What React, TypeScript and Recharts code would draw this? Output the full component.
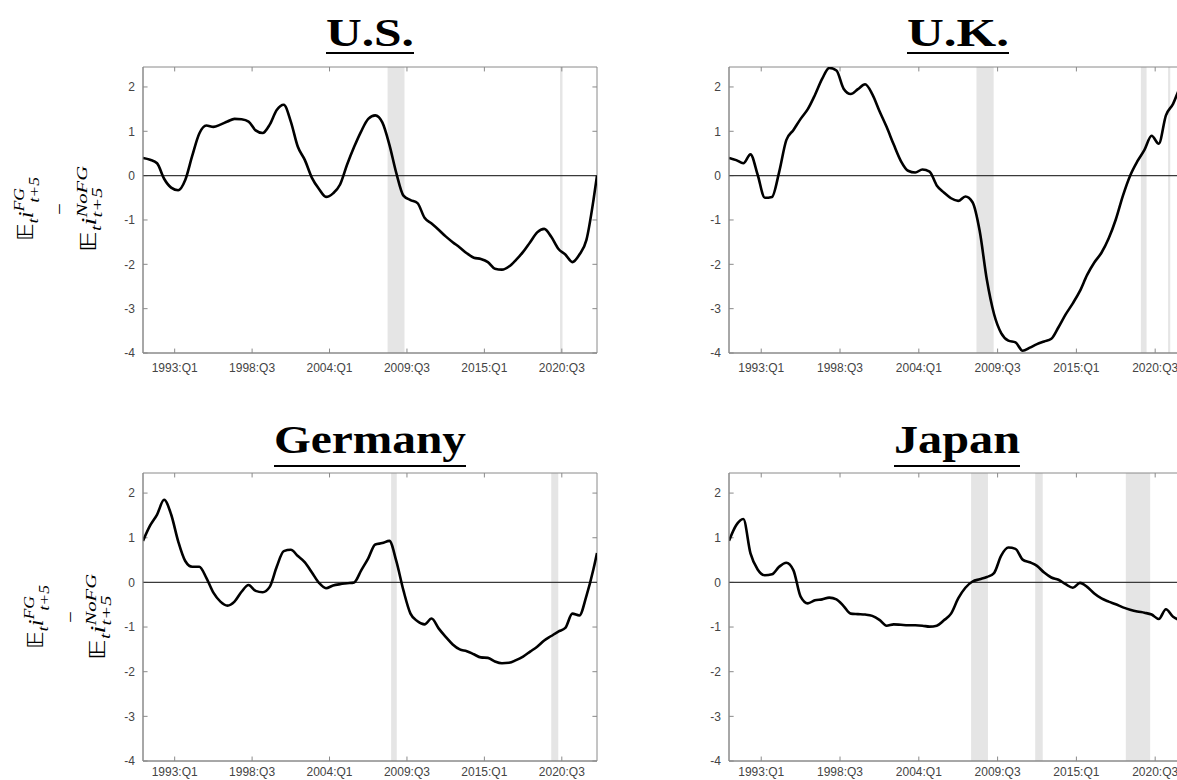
import React from 'react';
import { LineChart, Line, XAxis, YAxis, ReferenceLine, ReferenceArea } from 'recharts';

// quarter index counted from 1990:Q1 = 0
const quarterIdx = [
  3, 5, 7, 9, 11, 13, 15, 17, 19, 21,
  23, 25, 27, 29, 31, 33, 35, 37, 39, 41,
  43, 45, 47, 49, 51, 53, 55, 57, 59, 61,
  63, 65, 67, 69, 71, 73, 75, 77, 79, 81,
  83, 85, 87, 89, 91, 93, 95, 97, 99, 101,
  103, 105, 107, 109, 111, 113, 115, 117, 119, 121,
  123, 125, 127, 129, 131, 132,
];

const xTickIdx = [12, 34, 56, 78, 100, 122];
const xTickLabels = ['1993:Q1', '1998:Q3', '2004:Q1', '2009:Q3', '2015:Q1', '2020:Q3'];
const yTicks = [-4, -3, -2, -1, 0, 1, 2];

const panelTitles = ['U.S.', 'U.K.', 'Germany', 'Japan'];

const usValues = [
  0.40, 0.36, 0.28, -0.07, -0.27, -0.33, -0.10, 0.45, 0.95, 1.13,
  1.10, 1.15, 1.22, 1.28, 1.27, 1.22, 1.02, 0.96, 1.15, 1.48,
  1.60, 1.22, 0.65, 0.35, -0.05, -0.30, -0.48, -0.40, -0.20, 0.25,
  0.65, 1.00, 1.28, 1.36, 1.20, 0.70, 0.05, -0.45, -0.55, -0.62,
  -0.95, -1.08, -1.22, -1.37, -1.50, -1.62, -1.75, -1.85, -1.88, -1.95,
  -2.10, -2.12, -2.05, -1.90, -1.72, -1.50, -1.28, -1.20, -1.38, -1.65,
  -1.78, -1.95, -1.78, -1.45, -0.55, 0.00,
];

const ukValues = [
  0.40, 0.35, 0.28, 0.48, 0.02, -0.50, -0.48, 0.08, 0.80, 1.03,
  1.28, 1.50, 1.82, 2.18, 2.43, 2.37, 1.96, 1.84, 1.95, 2.06,
  1.84, 1.46, 1.10, 0.70, 0.33, 0.11, 0.07, 0.14, 0.09, -0.22,
  -0.38, -0.51, -0.57, -0.47, -0.60, -1.25, -2.35, -3.12, -3.55, -3.72,
  -3.76, -3.95, -3.88, -3.80, -3.74, -3.68, -3.42, -3.13, -2.88, -2.60,
  -2.24, -1.96, -1.74, -1.42, -0.99, -0.45, 0.00, 0.32, 0.58, 0.90,
  0.72, 1.36, 1.62, 2.00, 2.20, 2.30,
];

const deValues = [
  0.93, 1.27, 1.52, 1.85, 1.52, 0.92, 0.48, 0.35, 0.35, 0.10,
  -0.23, -0.43, -0.52, -0.43, -0.21, -0.06, -0.19, -0.22, -0.10, 0.35,
  0.70, 0.73, 0.59, 0.45, 0.22, -0.01, -0.13, -0.07, -0.04, -0.02,
  0.00, 0.27, 0.54, 0.85, 0.88, 0.93, 0.47, -0.18, -0.70, -0.87,
  -0.94, -0.81, -1.03, -1.22, -1.39, -1.50, -1.54, -1.61, -1.68, -1.69,
  -1.77, -1.81, -1.80, -1.74, -1.66, -1.55, -1.44, -1.30, -1.20, -1.10,
  -1.02, -0.70, -0.74, -0.30, 0.30, 0.66,
];

const jpValues = [
  0.93, 1.28, 1.42, 0.65, 0.29, 0.16, 0.18, 0.35, 0.44, 0.27,
  -0.32, -0.47, -0.40, -0.38, -0.34, -0.38, -0.53, -0.70, -0.71, -0.72,
  -0.75, -0.84, -0.97, -0.94, -0.95, -0.96, -0.96, -0.97, -0.99, -0.97,
  -0.85, -0.70, -0.36, -0.12, 0.02, 0.07, 0.12, 0.21, 0.60, 0.78,
  0.75, 0.51, 0.45, 0.37, 0.22, 0.11, 0.06, -0.04, -0.12, -0.01,
  -0.10, -0.25, -0.36, -0.43, -0.49, -0.56, -0.61, -0.65, -0.68, -0.72,
  -0.82, -0.60, -0.77, -0.84, -0.85, -0.86,
];

// shaded recession periods (quarter index)
const usBands = [[72.5, 77.3], [121.5, 122.2]];
const ukBands = [[72.1, 76.9], [118.0, 119.6], [125.6, 126.2]];
const deBands = [[73.5, 75.1], [119.0, 121.0]];
const jpBands = [[70.6, 75.3], [88.5, 90.6], [113.8, 120.6]];

const X_MIN = 3;
const X_MAX = 132;
const Y_MIN = -4;
const Y_MAX = 2.45;

const AXIS_GRAY = '#8a8a8a';
const tickFont = { fill: '#444', fontSize: 12, fontFamily: 'Liberation Sans, Arial, sans-serif' };

function Panel({ values, bands, left, top, width, height, margin, xMargin }) {
  const data = quarterIdx.map((q, i) => ({ q, v: values[i] }));
  const tickSegs = [];
  xTickIdx.forEach((t, i) => {
    tickSegs.push(
      <ReferenceLine key={'xb' + i} segment={[{ x: t, y: Y_MIN }, { x: t, y: Y_MIN + 0.1 }]} stroke={AXIS_GRAY} />
    );
    tickSegs.push(
      <ReferenceLine key={'xt' + i} segment={[{ x: t, y: Y_MAX }, { x: t, y: Y_MAX - 0.1 }]} stroke={AXIS_GRAY} />
    );
  });
  yTicks.forEach((t, i) => {
    tickSegs.push(
      <ReferenceLine key={'yl' + i} segment={[{ x: X_MIN, y: t }, { x: X_MIN + 1.3, y: t }]} stroke={AXIS_GRAY} />
    );
    tickSegs.push(
      <ReferenceLine key={'yr' + i} segment={[{ x: X_MAX, y: t }, { x: X_MAX - 1.3, y: t }]} stroke={AXIS_GRAY} />
    );
  });
  return (
    <div style={{ position: 'absolute', left, top }}>
      <LineChart width={width} height={height} data={data} margin={margin}>
        <XAxis
          dataKey="q"
          type="number"
          domain={[X_MIN, X_MAX]}
          ticks={xTickIdx}
          interval={0}
          tickFormatter={(t) => xTickLabels[xTickIdx.indexOf(t)]}
          tickLine={false}
          tickSize={0}
          tickMargin={xMargin}
          axisLine={{ stroke: AXIS_GRAY }}
          tick={tickFont}
          allowDataOverflow
          height={30}
        />
        <YAxis
          type="number"
          domain={[Y_MIN, Y_MAX]}
          ticks={yTicks}
          interval={0}
          tickLine={false}
          tickSize={0}
          tickMargin={8}
          axisLine={{ stroke: AXIS_GRAY }}
          tick={tickFont}
          allowDataOverflow
          width={30}
        />
        {bands.map(([a, b], i) => (
          <ReferenceArea key={'band' + i} x1={a} x2={b} y1={Y_MIN} y2={Y_MAX} fill="#e5e5e5" fillOpacity={1} stroke="none" />
        ))}
        <ReferenceArea x1={X_MIN} x2={X_MAX} y1={Y_MIN} y2={Y_MAX} fill="none" fillOpacity={0} stroke={AXIS_GRAY} />
        {tickSegs}
        <ReferenceLine y={0} stroke="#3a3a3a" strokeWidth={1.4} />
        <Line type="monotone" dataKey="v" stroke="#000" strokeWidth={2.6} dot={false} isAnimationActive={false} />
      </LineChart>
    </div>
  );
}

function YLabel({ cy, b1, bd, b3, f }) {
  const s = 0.72 * f;
  return (
    <g transform={`translate(0, ${cy}) rotate(-90)`}>
      <text x={0} y={b1} textAnchor="middle" fontFamily="Liberation Serif, serif" fontSize={f} fill="#000"
        textLength={64} lengthAdjust="spacingAndGlyphs">
        <tspan fontFamily="DejaVu Sans">𝔼</tspan>
        <tspan fontSize={s} dy={0.25 * f} fontStyle="italic">t</tspan>
        <tspan dy={-0.25 * f} fontStyle="italic">i</tspan>
        <tspan fontSize={s} dy={-0.42 * f} fontStyle="italic">FG</tspan>
        <tspan fontSize={s} dx={-0.83 * s} dy={0.72 * f} fontStyle="italic">t+5</tspan>
      </text>
      <text x={0} y={bd} textAnchor="middle" fontFamily="Liberation Serif, serif" fontSize={f * 0.9} fill="#000">–</text>
      <text x={0} y={b3} textAnchor="middle" fontFamily="Liberation Serif, serif" fontSize={f} fill="#000"
        textLength={86} lengthAdjust="spacingAndGlyphs">
        <tspan fontFamily="DejaVu Sans">𝔼</tspan>
        <tspan fontSize={s} dy={0.25 * f} fontStyle="italic">t</tspan>
        <tspan dy={-0.25 * f} fontStyle="italic">i</tspan>
        <tspan fontSize={s} dy={-0.42 * f} fontStyle="italic">NoFG</tspan>
        <tspan fontSize={s} dx={-2.5 * s} dy={0.72 * f} fontStyle="italic">t+5</tspan>
      </text>
    </g>
  );
}

function Title({ text, cx, baseline, len, underlineY }) {
  return (
    <g>
      <text
        x={cx}
        y={baseline}
        textAnchor="middle"
        fontFamily="Liberation Serif, serif"
        fontWeight="bold"
        fontSize={41}
        textLength={len}
        lengthAdjust="spacingAndGlyphs"
        fill="#000"
      >
        {text}
      </text>
      <line x1={cx - len / 2} x2={cx + len / 2} y1={underlineY} y2={underlineY} stroke="#000" strokeWidth={2.2} />
    </g>
  );
}

export default function App() {
  return (
    <div style={{ position: 'fixed', left: 0, top: 0, width: 1177, height: 780, overflow: 'hidden', background: '#fff' }}>
      <Panel values={usValues} bands={usBands} left={0} top={0} width={620} height={400} xMargin={10}
        margin={{ top: 67, right: 23, left: 113, bottom: 17 }} />
      <Panel values={ukValues} bands={ukBands} left={590} top={0} width={620} height={400} xMargin={10}
        margin={{ top: 67, right: 19, left: 109, bottom: 17 }} />
      <Panel values={deValues} bands={deBands} left={0} top={390} width={620} height={420} xMargin={6}
        margin={{ top: 83, right: 23, left: 113, bottom: 19 }} />
      <Panel values={jpValues} bands={jpBands} left={590} top={390} width={620} height={420} xMargin={6}
        margin={{ top: 83, right: 19, left: 109, bottom: 19 }} />
      <svg width={1177} height={780} style={{ position: 'absolute', left: 0, top: 0, pointerEvents: 'none' }}>
        <Title text={panelTitles[0]} cx={370} baseline={46} len={88} underlineY={53} />
        <Title text={panelTitles[1]} cx={958} baseline={46} len={102} underlineY={53} />
        <Title text={panelTitles[2]} cx={370} baseline={453} len={192} underlineY={466} />
        <Title text={panelTitles[3]} cx={957} baseline={453} len={126} underlineY={466} />
        <YLabel cy={209} b1={33} bd={64} b3={96} f={21} />
        <YLabel cy={617} b1={43} bd={75} b3={105} f={21} />
      </svg>
    </div>
  );
}
